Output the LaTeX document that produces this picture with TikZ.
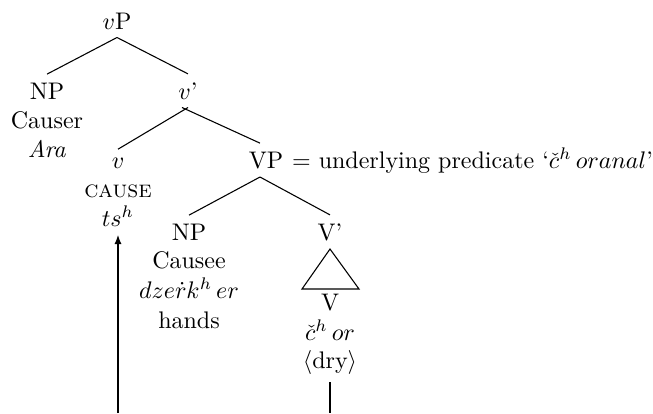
\documentclass[tikz,border=0pt]{standalone}
\usetikzlibrary{arrows.meta}
\begin{document}
\begin{tikzpicture}[x=0.4167pt,y=-0.4167pt,
  lbl/.style={anchor=base},
  sub/.style={anchor=base,inner ysep=0.5pt},
  branch/.style={line width=0.45pt},
  move/.style={line width=0.9pt}]
\useasboundingbox (0,0) rectangle (653,413);
% top layer
\node[lbl] (vP) at (117,29) {$v$P};
\node[lbl] (np1) at (47,99) {NP};
\node[sub] (causer) at (47,128) {Causer};
\node[sub] (ara) at (47,157) {\textit{Ara}};
\node[lbl] (vbar) at (188,99) {$v$'};
% v head and VP
\node[lbl] (v) at (118,168) {$v$};
\node[sub] (cause) at (118,197) {\textsc{cause}};
\node[lbl] (tsh) at (118,226) {$ts^h$};
\node[lbl] (VP) at (266,168) {VP};
\node[anchor=base west,inner xsep=0pt,inner ysep=0.5pt] (pred) at (VP.base east)
  {$=$ underlying predicate `$\check{c}^h\,oranal$'};
% lower layer
\node[lbl] (np2) at (189,240) {NP};
\node[sub] (causee) at (189,268) {Causee};
\node[sub] (dzer) at (189,298) {$dze\dot{r}k^h\,er$};
\node[sub] (hands) at (189,328) {hands};
\node[lbl] (Vbar) at (330,240) {V'};
\node[lbl] (V) at (330,310) {V};
\node[sub] (chor) at (330,340) {$\check{c}^h\,or$};
\node[lbl] (dry) at (330,368) {$\langle$dry$\rangle$};
% branches
\draw[branch] (vP.south) -- (np1.north);
\draw[branch] (vP.south) -- (vbar.north);
\draw[branch] (vbar.south) -- (v.north);
\draw[branch] ([xshift=-2.5pt]vbar.south) -- ([xshift=-2.5pt]VP.north);
\draw[branch] ([xshift=-2.5pt]VP.south) -- (np2.north);
\draw[branch] ([xshift=-2.5pt]VP.south) -- (Vbar.north);
% triangle over V
\coordinate (triL) at (302,289);
\coordinate (triR) at (359,289);
\draw[branch] (Vbar.south) -- (triL) -- (triR) -- cycle;
% head movement
\coordinate (footL) at (118,413);
\coordinate (footR) at (330,413);
\draw[move,-{Latex[length=4pt,width=3pt]}] (footL) -- (tsh.south);
\draw[move] (dry.south) -- (footR);
\end{tikzpicture}
\end{document}
